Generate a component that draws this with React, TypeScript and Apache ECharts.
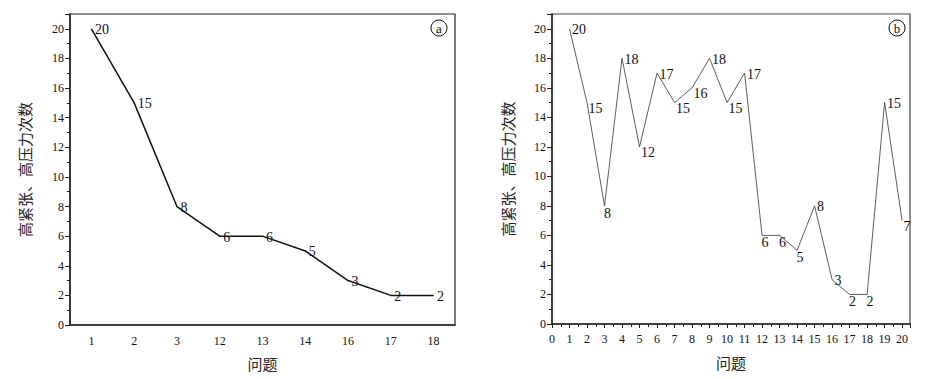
import React, { useEffect, useRef } from "react";
import * as echarts from "echarts";

// Chart (a)
const aCategories = ["1", "2", "3", "12", "13", "14", "16", "17", "18"];
const aValues = [20, 15, 8, 6, 6, 5, 3, 2, 2];

// Chart (b)
const bQuestions = [1, 2, 3, 4, 5, 6, 7, 8, 9, 10, 11, 12, 13, 14, 15, 16, 17, 18, 19, 20];
const bValues = [20, 15, 8, 18, 12, 17, 15, 16, 18, 15, 17, 6, 6, 5, 8, 3, 2, 2, 15, 7];

// label placement (style only): r = right, rb = right-below, b = below
const bLabelPlace = ["r", "rb", "b", "r", "rb", "r", "rb", "rb", "r", "rb", "r", "b", "b", "b", "r", "r", "b", "b", "r", "rb"];

const yName = "高紧张、高压力次数";
const xName = "问题";

const serif = "'Liberation Serif', 'DejaVu Serif', serif";
const cjk = "'Noto Sans CJK SC', sans-serif";

function labelFor(p: string) {
  if (p === "b") return { position: "bottom", distance: 0, offset: [3, 0] };
  if (p === "rb") return { position: "right", distance: 0, offset: [1, 6] };
  return { position: "right", distance: 1, offset: [1, 1] };
}

export default function App() {
  const ref = useRef<HTMLDivElement>(null);
  useEffect(() => {
    if (!ref.current) return;
    const chart = echarts.init(ref.current, undefined, { renderer: "svg" });
    const axisLineStyle = { color: "#222", width: 1.5 };
    const commonY = {
      type: "value",
      min: 0,
      max: 21,
      interval: 2,
      name: yName,
      nameLocation: "middle",
      nameRotate: 90,
      nameTextStyle: { fontFamily: cjk, fontSize: 15, color: "#222" },
      axisLine: { show: true, lineStyle: axisLineStyle },
      axisTick: { show: true, length: 5, lineStyle: { color: "#222" } },
      minorTick: { show: true, splitNumber: 2, length: 3, lineStyle: { color: "#222" } },
      axisLabel: { fontFamily: serif, fontSize: 12, color: "#111", margin: 6, showMaxLabel: false },
      splitLine: { show: false },
    };
    chart.setOption({
      animation: false,
      backgroundColor: "#fff",
      grid: [
        { left: 70, right: 485, top: 14, bottom: 54, show: true, borderColor: "#222", borderWidth: 1.2 },
        { left: 552, right: 30, top: 14, bottom: 55, show: true, borderColor: "#444", borderWidth: 1.2 },
      ],
      xAxis: [
        {
          gridIndex: 0,
          type: "category",
          data: aCategories,
          boundaryGap: true,
          name: xName,
          nameLocation: "middle",
          nameGap: 31,
          nameTextStyle: { fontFamily: cjk, fontSize: 15, color: "#222" },
          axisLine: { lineStyle: axisLineStyle },
          axisTick: { alignWithLabel: true, length: 4, lineStyle: { color: "#222" } },
          axisLabel: { fontFamily: serif, fontSize: 12, color: "#111", margin: 10 },
        },
        {
          gridIndex: 1,
          type: "value",
          min: 0,
          max: 20.45,
          interval: 1,
          name: xName,
          nameLocation: "middle",
          nameGap: 31,
          nameTextStyle: { fontFamily: cjk, fontSize: 15, color: "#222" },
          axisLine: { lineStyle: axisLineStyle },
          axisTick: { length: 4, lineStyle: { color: "#222" } },
          minorTick: { show: true, splitNumber: 2, length: 3, lineStyle: { color: "#222" } },
          axisLabel: { fontFamily: serif, fontSize: 12, color: "#111", margin: 9, showMaxLabel: false },
          splitLine: { show: false },
        },
      ],
      yAxis: [
        { ...commonY, gridIndex: 0, nameGap: 38 },
        { ...commonY, gridIndex: 1, nameGap: 37 },
      ],
      graphic: [
        { type: "circle", shape: { cx: 439, cy: 28, r: 8 }, style: { fill: "none", stroke: "#111", lineWidth: 1 } },
        { type: "text", x: 439, y: 28, style: { text: "a", fill: "#111", font: `13px ${serif}`, align: "center", verticalAlign: "middle" } },
        { type: "circle", shape: { cx: 897, cy: 28, r: 8 }, style: { fill: "none", stroke: "#111", lineWidth: 1 } },
        { type: "text", x: 897, y: 28, style: { text: "b", fill: "#111", font: `13px ${serif}`, align: "center", verticalAlign: "middle" } },
      ],
      series: [
        {
          type: "line",
          xAxisIndex: 0,
          yAxisIndex: 0,
          data: aValues,
          symbol: "circle",
          symbolSize: 1,
          showSymbol: true,
          itemStyle: { color: "rgba(0,0,0,0)" },
          lineStyle: { color: "#111", width: 1.5 },
          label: {
            show: true,
            position: "right",
            distance: 1,
            offset: [2, 1],
            fontFamily: serif,
            fontSize: 14,
            color: "#111",
          },
        },
        {
          type: "line",
          xAxisIndex: 1,
          yAxisIndex: 1,
          data: bQuestions.map((q, i) => ({
            value: [q, bValues[i]],
            label: labelFor(bLabelPlace[i]),
          })),
          symbol: "circle",
          symbolSize: 1,
          showSymbol: true,
          itemStyle: { color: "rgba(0,0,0,0)" },
          lineStyle: { color: "#333", width: 0.8 },
          label: {
            show: true,
            fontFamily: serif,
            fontSize: 14,
            color: "#111",
            formatter: (p: any) => String(p.value[1]),
          },
        },
      ],
    });
    return () => chart.dispose();
  }, []);
  return <div ref={ref} style={{ position: "fixed", left: 0, top: 0, width: 940, height: 379 }} />;
}
